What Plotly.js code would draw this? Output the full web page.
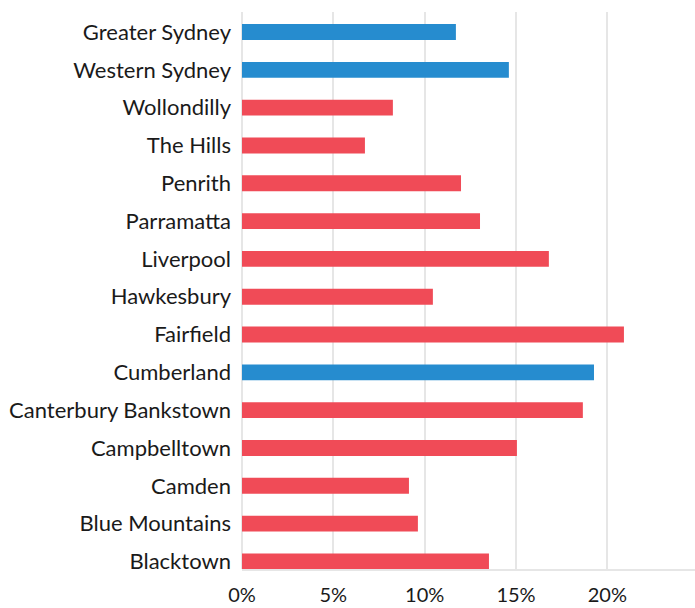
<!DOCTYPE html>
<html>
<head>
<meta charset="utf-8">
<script src="https://cdn.plot.ly/plotly-3.0.1.min.js"></script>
<style>html,body{margin:0;padding:0;background:#fff;}#chart{width:695px;height:608px;}</style>
</head>
<body>
<div id="chart"></div>
<script>
const categories = ["Blacktown","Blue Mountains","Camden","Campbelltown","Canterbury Bankstown","Cumberland","Fairfield","Hawkesbury","Liverpool","Parramatta","Penrith","The Hills","Wollondilly","Western Sydney","Greater Sydney"];
const values = [13.52, 9.63, 9.14, 15.05, 18.66, 19.27, 20.91, 10.45, 16.80, 13.03, 11.99, 6.73, 8.26, 14.61, 11.71];
const highlighted = ["Cumberland","Western Sydney","Greater Sydney"];
const xTickVals = [0, 5, 10, 15, 20];
const xTickText = ["0%","5%","10%","15%","20%"];

const BLUE = "#268ccf";
const RED = "#f04b57";
const colors = categories.map(c => highlighted.includes(c) ? BLUE : RED);

const trace = {
  type: "bar",
  orientation: "h",
  y: categories,
  x: values,
  width: 0.42,
  marker: {color: colors},
  hoverinfo: "none"
};

const layout = {
  width: 695, height: 608,
  margin: {l: 242, r: 0, t: 12, b: 39},
  paper_bgcolor: "#fff", plot_bgcolor: "#fff",
  font: {family: "Lato, 'Open Sans', sans-serif", size: 22, color: "#1a1a1a"},
  showlegend: false,
  xaxis: {
    range: [0, 24.8],
    tickvals: xTickVals, ticktext: xTickText,
    showgrid: true, gridcolor: "#e6e6e6", gridwidth: 2,
    zeroline: true, zerolinecolor: "#e6e6e6", zerolinewidth: 2,
    showline: true, linecolor: "#e6e6e6", linewidth: 2,
    ticks: "", ticklen: 0,
    ticklabelstandoff: 7,
    tickfont: {size: 20, color: "#1a1a1a"},
    fixedrange: true
  },
  yaxis: {
    type: "category",
    categoryorder: "array", categoryarray: categories,
    range: [-0.2, 14.53],
    showgrid: false, zeroline: false, showline: false,
    ticks: "", ticklen: 0,
    ticklabelstandoff: 10,
    tickfont: {size: 22, color: "#1a1a1a"},
    automargin: false,
    fixedrange: true
  }
};

Plotly.newPlot("chart", [trace], layout, {displayModeBar: false, staticPlot: true});
</script>
</body>
</html>
